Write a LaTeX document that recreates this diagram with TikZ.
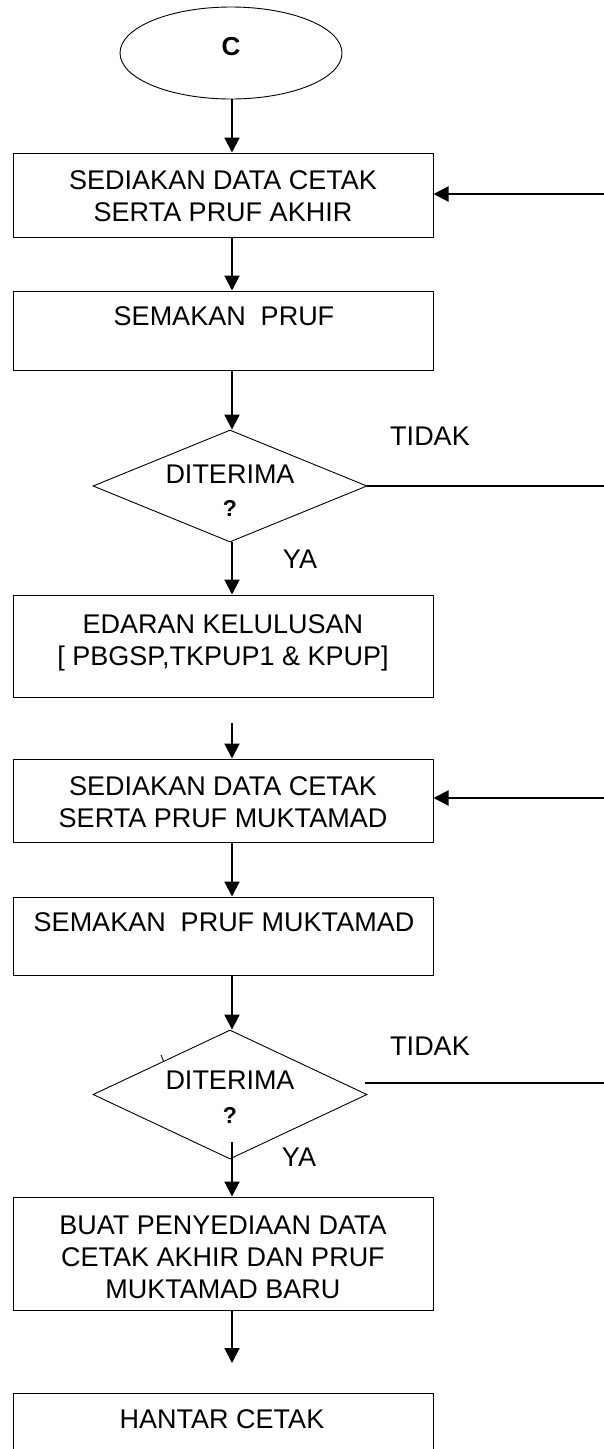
\documentclass[tikz,border=0pt]{standalone}
\usepackage{fontspec}
\setmainfont{Liberation Sans}
\usetikzlibrary{shapes.geometric,arrows.meta}
\begin{document}
\begin{tikzpicture}[x=1pt,y=-1pt,
  boxst/.style={draw, line width=1pt, inner sep=0pt, minimum width=420pt},
  decst/.style={draw, diamond, line width=0.9pt, inner sep=0pt, minimum width=274pt},
  txt/.style={inner sep=0pt, align=center, font=\fontsize{27}{32}\selectfont},
  qst/.style={inner sep=0pt, font=\fontsize{23}{25}\selectfont\bfseries},
  arr/.style={line width=2pt, -{Triangle[length=15pt,width=15pt]}},
  lin/.style={line width=2pt}
]
\useasboundingbox (0,0) rectangle (604,1449);
\coordinate (ax) at (232,0);

% start
\node[draw, ellipse, line width=0.9pt, minimum width=222pt, minimum height=92pt, inner sep=0pt] (C) at (231,53) {};
\node[inner sep=0pt, font=\fontsize{26}{28}\selectfont\bfseries] (Ct) at (231,47) {C};

% boxes
\node[boxst, minimum height=84pt] (b1) at (223,195) {};
\node[txt] (t1) at (223,196) {SEDIAKAN DATA CETAK\\SERTA PRUF AKHIR};

\node[boxst, minimum height=79pt] (b2) at (223.5,330.5) {};
\node[txt] (t2) at (224,316) {SEMAKAN\ \ PRUF};

\node[decst, minimum height=112pt] (d1) at (230,486) {};
\node[txt] (td1) at (230,474) {DITERIMA};
\node[qst] (q1) at (230,508) {?};
\node[txt] (no1) at (430,436) {TIDAK};
\node[txt] (ya1) at (300,559) {YA};

\node[boxst, minimum height=102pt] (b3) at (223.5,646) {};
\node[txt] (t3) at (223,643) {EDARAN KELULUSAN\\{[} PBGSP,TKPUP1 \& KPUP{]}};

\node[boxst, minimum height=83pt] (b4) at (223,800.5) {};
\node[txt] (t4) at (223,802) {SEDIAKAN DATA CETAK\\SERTA PRUF MUKTAMAD};

\node[boxst, minimum height=78pt] (b5) at (223.5,936) {};
\node[txt] (t5) at (224,922) {SEMAKAN\ \ PRUF MUKTAMAD};

\node[decst, minimum height=129pt] (d2) at (230,1094.5) {};
\node[txt] (td2) at (230,1080) {DITERIMA};
\node[qst] (q2) at (230,1115) {?};
\node[txt] (no2) at (430,1046) {TIDAK};
\node[txt] (ya2) at (299,1157) {YA};
\draw[line width=0.9pt] (161,1055) -- (164,1062);

\node[boxst, minimum height=113pt] (b6) at (223,1253.5) {};
\node[txt] (t6) at (223,1257) {BUAT PENYEDIAAN DATA\\CETAK AKHIR DAN PRUF\\MUKTAMAD BARU};

\node[boxst, minimum height=120pt] (b7) at (223,1453) {};
\node[txt] (t7) at (222,1419) {HANTAR CETAK};

% connectors
\draw[arr] (C.south -| ax) -- (b1.north -| ax);
\draw[arr] (b1.south -| ax) -- (b2.north -| ax);
\draw[arr] (b2.south -| ax) -- (d1.north -| ax);
\draw[arr] (d1.south -| ax) -- (b3.north -| ax);
\coordinate (s4) at (232,723);
\draw[arr] (s4) -- (b4.north -| ax);
\draw[arr] (b4.south -| ax) -- (b5.north -| ax);
\draw[arr] (b5.south -| ax) -- (d2.north -| ax);
\coordinate (s6) at (232,1142);
\draw[arr] (s6) -- (b6.north -| ax);
\coordinate (e7) at (232,1363);
\draw[arr] (b6.south -| ax) -- (e7);

\coordinate (r1) at (604,194);
\draw[arr] (r1) -- (r1 -| b1.east);
\coordinate (r4) at (604,798);
\draw[arr] (r4) -- (r4 -| b4.east);
\coordinate (n1) at (604,486);
\draw[lin] (d1.east) -- (n1);
\coordinate (n2s) at (365,1083);
\coordinate (n2) at (604,1083);
\draw[lin] (n2s) -- (n2);
\end{tikzpicture}
\end{document}
